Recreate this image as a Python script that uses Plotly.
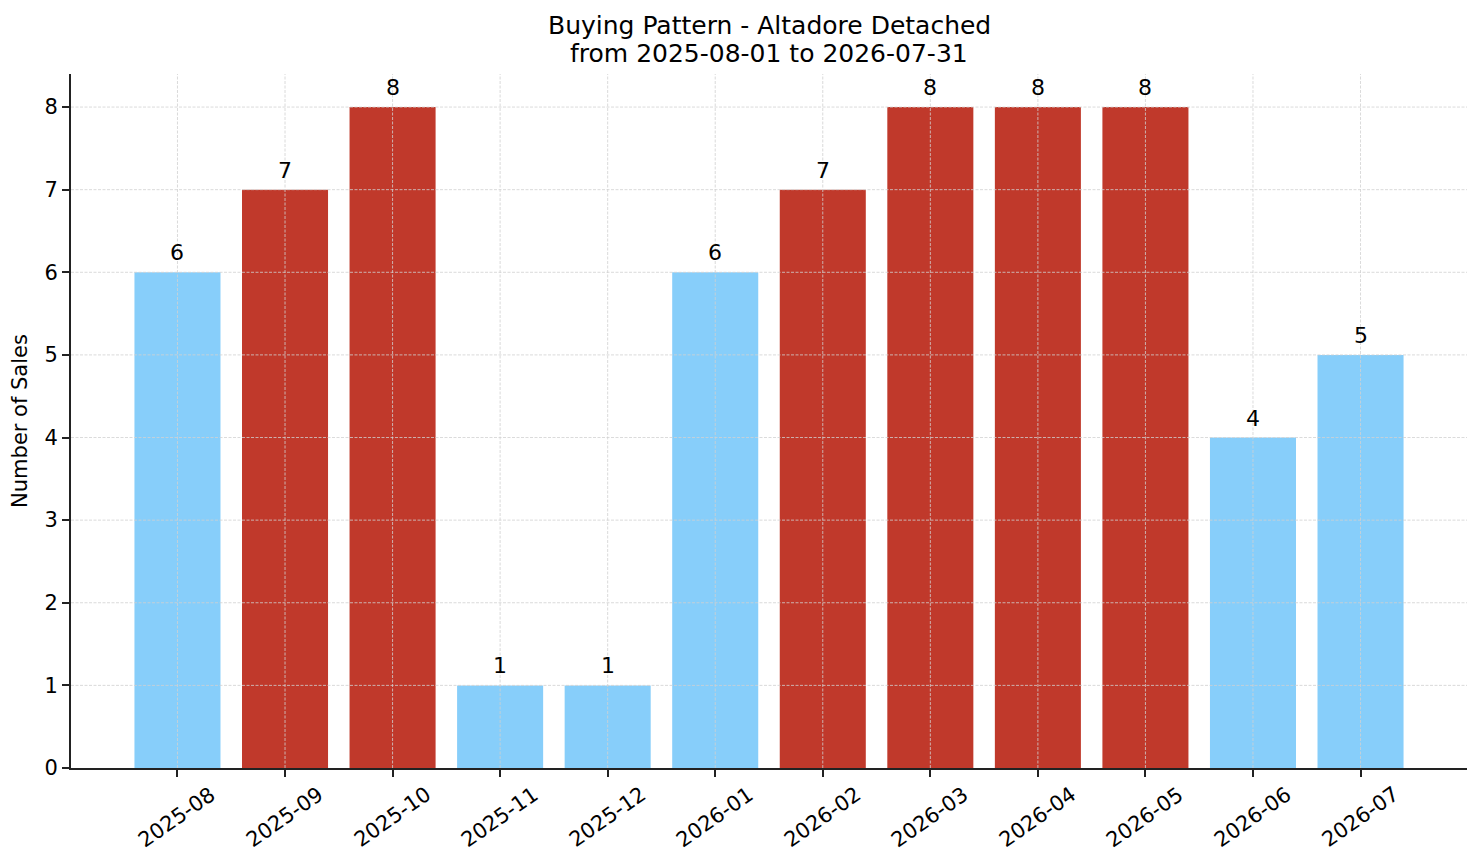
import plotly.graph_objects as go

# monthly sales counts
months = ['2025-08', '2025-09', '2025-10', '2025-11', '2025-12', '2026-01',
          '2026-02', '2026-03', '2026-04', '2026-05', '2026-06', '2026-07']
sales = [6, 7, 8, 1, 1, 6, 7, 8, 8, 8, 4, 5]
y_ticks = [0, 1, 2, 3, 4, 5, 6, 7, 8]
title_lines = ['Buying Pattern - Altadore Detached', 'from 2025-08-01 to 2026-07-31']

BLUE = '#87CEFA'
RED = '#C0392B'
colors = [RED if s >= 7 else BLUE for s in sales]

FONT = 'DejaVu Sans'

fig = go.Figure()
fig.add_trace(go.Bar(
    x=months, y=sales, width=0.8,
    marker=dict(color=colors, line=dict(width=0)),
    showlegend=False,
))

# value labels above bars
for m, s in zip(months, sales):
    fig.add_annotation(x=m, y=s, text=str(s), showarrow=False,
                       yanchor='bottom', yshift=5,
                       font=dict(family=FONT, size=22, color='black'))

# rotated month labels, centred under each tick like matplotlib does
for m in months:
    fig.add_annotation(x=m, xref='x', y=0, yref='paper', text=m, showarrow=False,
                       textangle=-35, xanchor='center', yanchor='top', yshift=-13,
                       borderpad=0,
                       font=dict(family=FONT, size=21, color='black'))

# two-line title just above the plot
fig.add_annotation(xref='paper', yref='paper', x=0.5, y=1, xanchor='center',
                   yanchor='bottom', yshift=4, showarrow=False, text=title_lines[1],
                   font=dict(family=FONT, size=25, color='black'))
fig.add_annotation(xref='paper', yref='paper', x=0.5, y=1, xanchor='center',
                   yanchor='bottom', yshift=32, showarrow=False, text=title_lines[0],
                   font=dict(family=FONT, size=25, color='black'))

# dashed grid drawn above the bars (matplotlib look)
grid = dict(color='#d0d0d0', width=0.8, dash='3px,1.5px')
for m in months:
    fig.add_shape(type='line', xref='x', yref='paper', x0=m, x1=m, y0=0, y1=1,
                  line=grid, layer='above')
for t in y_ticks[1:]:
    fig.add_shape(type='line', xref='paper', yref='y', x0=0, x1=1, y0=t, y1=t,
                  line=grid, layer='above')

# page body has an 8px margin, so the figure is sized to fit inside it
fig.update_layout(
    width=1465, height=847,
    margin=dict(l=63, r=6, t=66, b=87),
    paper_bgcolor='white', plot_bgcolor='white',
    font=dict(family=FONT, size=21, color='black'),
    bargap=0.2,
)
fig.update_xaxes(
    type='category', range=[-0.99, 11.99],
    showline=True, linecolor='#222', linewidth=1.7,
    ticks='outside', ticklen=7, tickwidth=1.7, tickcolor='#222',
    showticklabels=False, showgrid=False, zeroline=False,
    layer='above traces',
)
fig.update_yaxes(
    range=[0, 8.4], tickvals=y_ticks,
    showline=True, linecolor='#222', linewidth=1.7,
    ticks='outside', ticklen=7, tickwidth=1.7, tickcolor='#222',
    showgrid=False, zeroline=False,
    tickfont=dict(family=FONT, size=21, color='black'),
    title=dict(text='Number of Sales', standoff=14,
               font=dict(family=FONT, size=21, color='black')),
    layer='above traces',
)

fig.write_html('out.html')
